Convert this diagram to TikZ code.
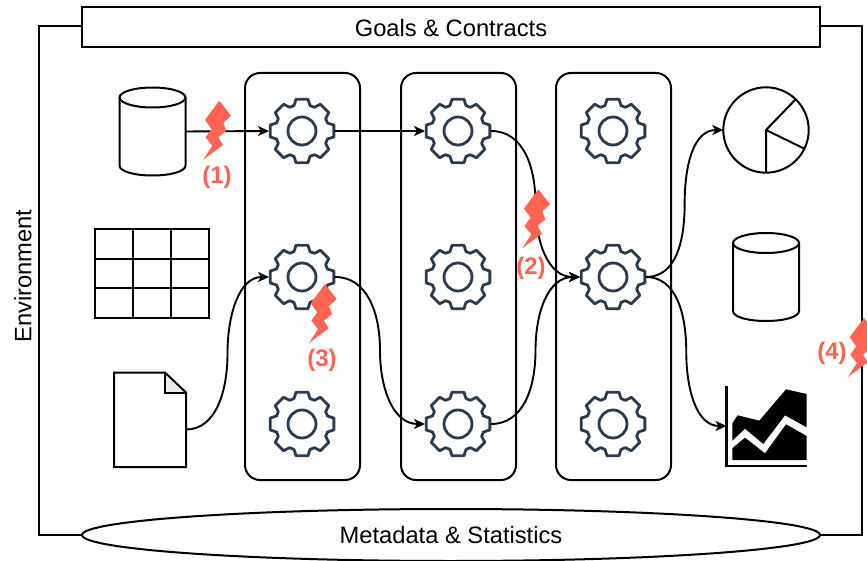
\documentclass[tikz,border=0pt]{standalone}
\usepackage{fontspec}
\setmainfont{Liberation Sans}
\usetikzlibrary{arrows.meta,calc,shapes.geometric}
\definecolor{boltred}{HTML}{FF6352}
\definecolor{gearblue}{HTML}{2C3A4B}
\tikzset{
  every node/.style={inner sep=0pt,outer sep=0pt},
  ln/.style={line width=2pt,draw=black},
  conn/.style={line width=1.9pt,draw=black,-{Stealth[length=11pt,width=10pt,inset=3pt]}},
  column/.style={ln,rectangle,rounded corners=15pt,minimum width=115pt,minimum height=407pt},
  gearnode/.style={circle,minimum size=66pt},
  gearline/.style={line width=2.8pt,draw=gearblue,line join=round},
  title/.style={font=\fontsize{23.7}{27}\selectfont},
  bolt/.style={fill=boltred,draw=none},
  boltlabel/.style={font=\fontsize{24}{27}\selectfont\bfseries,text=boltred},
}
\newcommand\gear[3]{%
  \node[gearnode] (#1) at (#2,#3) {};
  \begin{scope}[shift={(#2,#3)}]
    \draw[gearline] (-17.4:26.7) \foreach \a in {0,45,...,315}{ -- (\a-17.4:26.7) -- (\a-10.6:32.4) -- (\a+10.6:32.4) -- (\a+17.4:26.7)} -- cycle;
    \draw[gearline] (0,0) circle (14);
  \end{scope}}
\newcommand\lightning[2]{%
  \begin{scope}[shift={(#1,#2)}]
    \fill[bolt] (0,0) -- (11.7,15) -- (4,22.3) -- (7,30) -- (-1,36.7) -- (3.7,44.3) -- (-16,59) -- (-7,45) -- (-13.7,36.7) -- (-7.7,28.3) -- (-14.3,19.3) -- cycle;
  \end{scope}}
\newcommand\cyl[3]{% name, left, top
  \node[rectangle,minimum width=66pt,minimum height=88pt,anchor=north west] (#1) at (#2,#3) {};
  \begin{scope}[shift={(#2,#3)}]
    \draw[ln] (33,10) ellipse (33 and 10);
    \draw[ln] (0,10) -- (0,78) .. controls (0,84) and (15,88) .. (33,88) .. controls (51,88) and (66,84) .. (66,78) -- (66,10);
  \end{scope}}
\newcommand\curved[5]{% from, to, name of mid, horizontal control length, signed vertical control length
  \coordinate (#3) at ($(#1)!.5!(#2)$);
  \draw[conn] (#1) .. controls +(#4,0) and ($(#3)-(0,{#5})$) .. (#3) .. controls ($(#3)+(0,{#5})$) and +(-#4,0) .. (#2);}
\begin{document}
\begin{tikzpicture}[x=1pt,y=-1pt]
\useasboundingbox (0,0) rectangle (867,561);
\clip (0,0) rectangle (867,561);
% frame
\coordinate (tl) at (39,26);
\coordinate (bl) at (39,535);
\coordinate (tr) at (862,26);
\coordinate (br) at (862,535);
\node[ln,draw,rectangle,minimum width=738pt,minimum height=40pt] (goals) at (451,27) {};
\node[title] (goalstext) at (451,28) {Goals \& Contracts};
\node[ln,draw,ellipse,minimum width=738pt,minimum height=52pt,title] (meta) at (451,535) {Metadata \& Statistics};
\draw[ln] (goals.west |- tl) -- (tl) -- (bl) -- (meta.west);
\draw[ln] (goals.east |- tr) -- (tr) -- (br) -- (meta.east);
\node[title,rotate=90] (env) at (23,276) {Environment};
% columns
\node[column] (c1) at (302.5,276.5) {};
\node[column] (c2) at (458.5,276.5) {};
\node[column] (c3) at (613.5,276.5) {};
% gears
\gear{g11}{302}{131}\gear{g12}{302}{277}\gear{g13}{302}{424}
\gear{g21}{458}{131}\gear{g22}{458}{277}\gear{g23}{458}{424}
\gear{g31}{613}{131}\gear{g32}{613}{277}\gear{g33}{613}{424}
% left sources
\cyl{db}{119.5}{87.5}
\node[rectangle,minimum width=114pt,minimum height=89pt] (tbl) at (152,273.5) {};
\draw[ln] (95,229) rectangle (209,318);
\draw[ln] (133,229) -- (133,318) (171,229) -- (171,318) (95,259) -- (209,259) (95,288) -- (209,288);
\node[rectangle,minimum width=72pt,minimum height=95pt] (doc) at (150,419.5) {};
\fill[gray!15] (165,372.5) -- (186,392.5) -- (165,392.5) -- cycle;
\draw[ln,line join=miter] (114,372.5) -- (165,372.5) -- (186,392.5) -- (186,467) -- (114,467) -- cycle;
\draw[ln,line join=miter] (165,372.5) -- (165,392.5) -- (186,392.5);
% right sinks
\node[ln,draw,circle,minimum size=85.4pt] (pie) at (766,130) {};
\draw[ln,line join=round] (pie.46) -- (pie.center) -- (pie.-26) (pie.center) -- (pie.south);
\cyl{db2}{733}{233}
\node[rectangle,minimum width=81pt,minimum height=81pt] (chart) at (767,426) {};
\fill[black] (732.3,423.3) -- (737.7,415.3) -- (759.3,420.7) -- (786,389.3) -- (806.7,394) -- (806.7,427.3) -- (785,415.3) -- (763.3,444) -- (745,428.7) -- (732.3,440.7) -- cycle;
\fill[black] (732.3,448.3) -- (745,437.7) -- (765,453.3) -- (786,424.3) -- (806.7,436) -- (806.7,460) -- (732.3,460) -- cycle;
\draw[line width=2.6pt,line join=miter] (726.7,386) -- (726.7,466) -- (807,466);
% connectors
\draw[conn] (db.east) -- (g11.west);
\draw[conn] (g11.east) -- (g21.west);
\curved{g21.east}{g32.west}{m1}{32}{38}
\curved{[yshift=-10pt]doc.east}{g12.west}{m2}{30}{-38}
\curved{g12.east}{g23.west}{m3}{32}{38}
\curved{g23.east}{g32.west}{m4}{32}{-38}
\curved{g32.east}{pie.west}{m5}{30}{-38}
\curved{g32.east}{chart.west}{m6}{30}{38}
% faults
\lightning{219.3}{100.7}
\lightning{538.3}{189.3}
\lightning{325}{284}
\lightning{864}{318}
\node[boltlabel] (l1) at (217,177.5) {(1)};
\node[boltlabel] (l2) at (531,268) {(2)};
\node[boltlabel] (l3) at (322,360) {(3)};
\node[boltlabel] (l4) at (832,353) {(4)};
\end{tikzpicture}
\end{document}
